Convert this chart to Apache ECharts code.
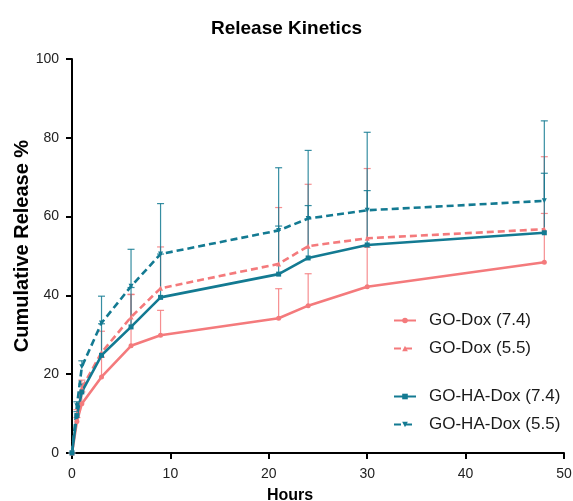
<!DOCTYPE html>
<html>
<head>
<meta charset="utf-8">
<script src="https://cdn.jsdelivr.net/npm/echarts@6/dist/echarts.min.js"></script>
<style>
  html, body { margin: 0; padding: 0; background: #fff; }
  #chart { width: 573px; height: 501px; }
</style>
</head>
<body>
<div id="chart"></div>
<script>
// time points (hours)
const hours = [0, 0.5, 1, 3, 6, 9, 21, 24, 30, 48];

// mean cumulative release %
const goDox74 = [0, 8, 12.5, 19.3, 27.2, 29.9, 34.2, 37.4, 42.2, 48.4];
const goDox55 = [0, 10, 16.5, 25.5, 34.5, 41.8, 48.0, 52.5, 54.5, 56.8];
const goHaDox74 = [0, 9.5, 15.5, 24.8, 32.0, 39.5, 45.4, 49.5, 52.8, 55.9];
const goHaDox55 = [0, 12, 21.9, 33.0, 42.3, 50.5, 56.5, 59.5, 61.6, 64.0];

// upper error (SD)
const goDox74Err = [0, 1, 3, 5, 13, 6.3, 7.5, 8.1, 10, 12.4];
const goDox55Err = [0, 1, 2, 5.4, 5.8, 10.5, 14.3, 15.7, 17.7, 18.4];
const goHaDox74Err = [0, 1, 2, 8, 10, 11, 12.2, 13.3, 13.8, 15.1];
const goHaDox55Err = [0, 1, 1.5, 6.8, 9.4, 12.8, 15.9, 17.3, 19.8, 20.3];

const seriesNames = ['GO-Dox (7.4)', 'GO-Dox (5.5)', 'GO-HA-Dox (7.4)', 'GO-HA-Dox (5.5)'];

const PINK = '#F47A7C';
const TEAL = '#137A92';

const chart = echarts.init(document.getElementById('chart'));

const pairs = (vals) => hours.map((h, i) => [h, vals[i]]);

// upper-only error bars with a small cap, drawn through the axes
function errorSeries(vals, errs, color) {
    return {
        type: 'custom',
        silent: true,
        z: 1,
        data: hours.map((h, i) => [h, vals[i], vals[i] + errs[i]]),
        renderItem: function (params, api) {
            const base = api.coord([api.value(0), api.value(1)]);
            const top = api.coord([api.value(0), api.value(2)]);
            const style = { stroke: color, lineWidth: 1.2, opacity: 0.85 };
            return {
                type: 'group',
                children: [
                    { type: 'line', shape: { x1: base[0], y1: base[1], x2: top[0], y2: top[1] }, style },
                    { type: 'line', shape: { x1: top[0] - 3.5, y1: top[1], x2: top[0] + 3.5, y2: top[1] }, style }
                ]
            };
        }
    };
}

function lineSeries(name, vals, color, dashed, symbol, rotate) {
    return {
        name: name,
        type: 'line',
        z: 3,
        data: pairs(vals),
        symbol: symbol,
        symbolSize: 5,
        symbolRotate: rotate || 0,
        itemStyle: { color: color },
        lineStyle: { color: color, width: 2.6, type: dashed ? [7, 4] : 'solid' }
    };
}

const legendCommon = {
    orient: 'vertical',
    left: 388,
    itemWidth: 22,
    itemHeight: 7,
    itemGap: 11,
    textStyle: { fontFamily: 'Liberation Sans', fontSize: 17, color: '#1a1a1a', padding: [0, 0, 0, 8] }
};

chart.setOption({
    animation: false,
    backgroundColor: '#fff',
    title: {
        text: 'Release Kinetics',
        left: 'center',
        top: 14,
        textStyle: { fontFamily: 'Liberation Sans', fontSize: 19, fontWeight: 'bold', color: '#000' }
    },
    legend: [
        Object.assign({ top: 307, data: [seriesNames[0], seriesNames[1]] }, legendCommon),
        Object.assign({ top: 383, data: [seriesNames[2], seriesNames[3]] }, legendCommon)
    ],
    grid: { left: 72, right: 9, top: 59, bottom: 48, containLabel: false, outerBoundsMode: 'none' },
    xAxis: {
        type: 'value',
        min: 0,
        max: 50,
        interval: 10,
        name: 'Hours',
        nameLocation: 'middle',
        nameGap: 35,
        nameMoveOverlap: false,
        nameTextStyle: { fontFamily: 'Liberation Sans', fontSize: 16, fontWeight: 'bold', color: '#000', padding: [0, 56, 0, 0] },
        axisLine: { lineStyle: { color: '#000', width: 2 } },
        axisTick: { length: 6, lineStyle: { color: '#000', width: 2 } },
        axisLabel: { fontFamily: 'Liberation Sans', fontSize: 14, color: '#222', margin: 14 },
        splitLine: { show: false }
    },
    yAxis: {
        type: 'value',
        min: 0,
        max: 100,
        interval: 20,
        name: 'Cumulative Release %',
        nameLocation: 'middle',
        nameGap: 40,
        nameMoveOverlap: false,
        nameTextStyle: { fontFamily: 'Liberation Sans', fontSize: 20, fontWeight: 'bold', color: '#000', padding: [0, 0, 0, 20] },
        axisLine: { show: true, lineStyle: { color: '#000', width: 2 } },
        axisTick: { show: true, length: 6, lineStyle: { color: '#000', width: 2 } },
        axisLabel: { fontFamily: 'Liberation Sans', fontSize: 14, color: '#222', margin: 13 },
        splitLine: { show: false }
    },
    series: [
        errorSeries(goDox74, goDox74Err, PINK),
        errorSeries(goDox55, goDox55Err, PINK),
        errorSeries(goHaDox74, goHaDox74Err, TEAL),
        errorSeries(goHaDox55, goHaDox55Err, TEAL),
        lineSeries(seriesNames[0], goDox74, PINK, false, 'circle'),
        lineSeries(seriesNames[1], goDox55, PINK, true, 'triangle'),
        lineSeries(seriesNames[2], goHaDox74, TEAL, false, 'rect'),
        lineSeries(seriesNames[3], goHaDox55, TEAL, true, 'triangle', 180)
    ]
});
</script>
</body>
</html>
